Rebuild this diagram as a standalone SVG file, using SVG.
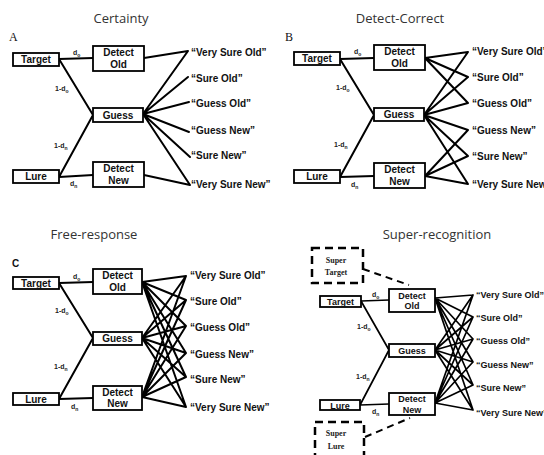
<svg xmlns="http://www.w3.org/2000/svg" width="544" height="455" viewBox="0 0 544 455">
<style>
.title{font-family:"Open Sans","Noto Sans",sans-serif;font-size:13px;fill:#333;text-anchor:middle}
.box{fill:#fff;stroke:#000;stroke-width:1.8}
.lbl{font-family:"Liberation Sans",Arial,sans-serif;font-weight:bold;font-size:10px;fill:#111;text-anchor:middle}
.lblD{font-family:"Liberation Sans",Arial,sans-serif;font-weight:bold;font-size:9px;fill:#111;text-anchor:middle}
.resp{font-family:"Liberation Sans",Arial,sans-serif;font-weight:bold;font-size:10px;fill:#111}
.respD{font-family:"Liberation Sans",Arial,sans-serif;font-weight:bold;font-size:9px;fill:#111}
.p{font-family:"Liberation Sans",Arial,sans-serif;font-weight:bold;font-size:7px;fill:#222}
.sub{font-size:5px}
.e{fill:none;stroke:#000;stroke-width:2;stroke-linecap:round}
.eD{fill:none;stroke:#000;stroke-width:1.7;stroke-linecap:round}
.dash{fill:none;stroke:#000;stroke-width:2.5;stroke-dasharray:8 5}
.dashl{fill:none;stroke:#000;stroke-width:2;stroke-dasharray:7 5}
.sup{font-family:"Liberation Serif","Times New Roman",serif;font-weight:bold;font-size:8px;fill:#222;text-anchor:middle}
.letter{font-family:"Liberation Serif","Times New Roman",serif;font-size:12px;fill:#111}
</style>

<!-- Titles and panel letters -->
<text class="title" x="121" y="23">Certainty</text>
<text class="title" x="400" y="23">Detect-Correct</text>
<text class="title" x="94" y="239">Free-response</text>
<text class="title" x="437" y="239">Super-recognition</text>
<text class="letter" x="9" y="41">A</text>
<text class="letter" x="285" y="41">B</text>
<text x="12" y="267" style="font-family:'Liberation Sans',Arial,sans-serif;font-weight:bold;font-size:10px;fill:#111">C</text>

<!-- Connectors -->
<g id="connectors">
  <!-- Panel A -->
  <path class="e" d="M59 59L93 58M59 59L93 115M59 177L93 115M59 177L93 175"/>
  <path class="e" d="M144 58L188 51M143 114L188 51M143 114L188 77M143 114L189 102M143 114L189 132M143 114L190 157M143 114L190 185M144 175L190 185"/>
  <!-- Panel B -->
  <path class="e" d="M340 59L374 58M340 59L374 115M340 177L374 115M340 177L374 176"/>
  <path class="e" d="M425 58L468 52M425 58L468 77M425 58L468 103M424 115L468 52M424 115L468 77M424 115L468 103M424 115L468 130M424 115L468 156M424 115L468 184M425 176L468 130M425 176L468 156M425 176L468 184"/>
  <!-- Panel C -->
  <path class="e" d="M59 283L93 282M59 283L93 338M59 399L93 338M59 399L93 398"/>
  <path class="e" d="M142 282L186 276M142 282L186 300M142 282L186 326M142 282L186 353M142 282L186 377M142 282L186 407M142 338L186 276M142 338L186 300M142 338L186 326M142 338L186 353M142 338L186 377M142 338L186 407M142 397L186 276M142 397L186 300M142 397L186 326M142 397L186 353M142 397L186 377M142 397L186 407"/>
  <!-- Panel D -->
  <path class="eD" d="M361 301L389 300M361 301L389 350M360 405L389 350M360 405L389 404"/>
  <path class="eD" d="M435 298L473 295M435 298L473 317M435 298L473 339M435 298L473 362M435 298L473 385M435 298L473 410M435 350L473 295M435 350L473 317M435 350L473 339M435 350L473 362M435 350L473 385M435 350L473 410M435 403L473 295M435 403L473 317M435 403L473 339M435 403L473 362M435 403L473 385M435 403L473 410"/>
  <path class="dashl" d="M363 269L409 285"/>
  <path class="dashl" d="M365 437L410 418"/>
</g>

<!-- Edge parameter labels -->
<g id="params">
  <text class="p" x="73" y="55">d<tspan class="sub" dy="1.5">o</tspan></text>
  <text class="p" x="55" y="91">1-d<tspan class="sub" dy="1.5">o</tspan></text>
  <text class="p" x="54" y="148">1-d<tspan class="sub" dy="1.5">n</tspan></text>
  <text class="p" x="70" y="186">d<tspan class="sub" dy="1.5">n</tspan></text>

  <text class="p" x="354" y="54">d<tspan class="sub" dy="1.5">o</tspan></text>
  <text class="p" x="336" y="90">1-d<tspan class="sub" dy="1.5">o</tspan></text>
  <text class="p" x="334" y="147">1-d<tspan class="sub" dy="1.5">n</tspan></text>
  <text class="p" x="351" y="187">d<tspan class="sub" dy="1.5">n</tspan></text>

  <text class="p" x="73" y="279">d<tspan class="sub" dy="1.5">o</tspan></text>
  <text class="p" x="55" y="313">1-d<tspan class="sub" dy="1.5">o</tspan></text>
  <text class="p" x="54" y="369">1-d<tspan class="sub" dy="1.5">n</tspan></text>
  <text class="p" x="71" y="409">d<tspan class="sub" dy="1.5">n</tspan></text>

  <text class="p" x="372" y="297">d<tspan class="sub" dy="1.5">o</tspan></text>
  <text class="p" x="357" y="329">1-d<tspan class="sub" dy="1.5">o</tspan></text>
  <text class="p" x="356" y="379">1-d<tspan class="sub" dy="1.5">n</tspan></text>
  <text class="p" x="372" y="414">d<tspan class="sub" dy="1.5">n</tspan></text>
</g>

<!-- Panel A nodes -->
<g id="a-target"><rect class="box" x="13" y="53" width="46" height="13"/><text class="lbl" x="36" y="63">Target</text></g>
<g id="a-detect-old"><rect class="box" x="93" y="46" width="51" height="25"/><text class="lbl" x="118.5" y="56">Detect</text><text class="lbl" x="118.5" y="68">Old</text></g>
<g id="a-guess"><rect class="box" x="93" y="108" width="50" height="14"/><text class="lbl" x="118" y="119">Guess</text></g>
<g id="a-detect-new"><rect class="box" x="93" y="162" width="51" height="25"/><text class="lbl" x="118.5" y="172">Detect</text><text class="lbl" x="118.5" y="184">New</text></g>
<g id="a-lure"><rect class="box" x="13" y="170" width="46" height="13"/><text class="lbl" x="36" y="180">Lure</text></g>
<g id="a-responses">
  <text class="resp" x="191" y="56">“Very Sure Old”</text>
  <text class="resp" x="191" y="82">“Sure Old”</text>
  <text class="resp" x="191" y="107">“Guess Old”</text>
  <text class="resp" x="191" y="134">“Guess New”</text>
  <text class="resp" x="191" y="159">“Sure New”</text>
  <text class="resp" x="191" y="188">“Very Sure New”</text>
</g>

<!-- Panel B nodes -->
<g id="b-target"><rect class="box" x="294" y="52" width="46" height="13"/><text class="lbl" x="317" y="62">Target</text></g>
<g id="b-detect-old"><rect class="box" x="374" y="45" width="51" height="25"/><text class="lbl" x="399.5" y="55">Detect</text><text class="lbl" x="399.5" y="67">Old</text></g>
<g id="b-guess"><rect class="box" x="374" y="108" width="50" height="13"/><text class="lbl" x="399" y="118">Guess</text></g>
<g id="b-detect-new"><rect class="box" x="374" y="163" width="51" height="25"/><text class="lbl" x="399.5" y="173">Detect</text><text class="lbl" x="399.5" y="185">New</text></g>
<g id="b-lure"><rect class="box" x="294" y="170" width="46" height="13"/><text class="lbl" x="317" y="180">Lure</text></g>
<g id="b-responses">
  <text class="resp" x="472" y="55">“Very Sure Old”</text>
  <text class="resp" x="472" y="81">“Sure Old”</text>
  <text class="resp" x="472" y="107">“Guess Old”</text>
  <text class="resp" x="472" y="134">“Guess New”</text>
  <text class="resp" x="472" y="160">“Sure New”</text>
  <text class="resp" x="472" y="188">“Very Sure New”</text>
</g>

<!-- Panel C nodes -->
<g id="c-target"><rect class="box" x="13" y="277" width="46" height="12"/><text class="lbl" x="36" y="286.5">Target</text></g>
<g id="c-detect-old"><rect class="box" x="93" y="269" width="49" height="25"/><text class="lbl" x="117.5" y="279">Detect</text><text class="lbl" x="117.5" y="291">Old</text></g>
<g id="c-guess"><rect class="box" x="93" y="332" width="49" height="13"/><text class="lbl" x="117.5" y="342">Guess</text></g>
<g id="c-detect-new"><rect class="box" x="93" y="386" width="49" height="24"/><text class="lbl" x="117.5" y="396">Detect</text><text class="lbl" x="117.5" y="407">New</text></g>
<g id="c-lure"><rect class="box" x="13" y="393" width="46" height="12"/><text class="lbl" x="36" y="402.5">Lure</text></g>
<g id="c-responses">
  <text class="resp" x="190" y="279">“Very Sure Old”</text>
  <text class="resp" x="190" y="305">“Sure Old”</text>
  <text class="resp" x="190" y="331">“Guess Old”</text>
  <text class="resp" x="190" y="358">“Guess New”</text>
  <text class="resp" x="190" y="383">“Sure New”</text>
  <text class="resp" x="190" y="411">“Very Sure New”</text>
</g>

<!-- Panel D nodes -->
<g id="d-super-target"><rect class="dash" x="312" y="248" width="51" height="35"/><text class="sup" x="336" y="263">Super</text><text class="sup" x="336" y="275">Target</text></g>
<g id="d-target"><rect class="box" x="320" y="296" width="41" height="11"/><text class="lblD" x="340.5" y="304.5">Target</text></g>
<g id="d-detect-old"><rect class="box" x="389" y="289" width="46" height="23"/><text class="lblD" x="412" y="298.5">Detect</text><text class="lblD" x="412" y="309">Old</text></g>
<g id="d-guess"><rect class="box" x="389" y="344" width="46" height="13"/><text class="lblD" x="412" y="354">Guess</text></g>
<g id="d-detect-new"><rect class="box" x="389" y="393" width="46" height="22"/><text class="lblD" x="412" y="402">Detect</text><text class="lblD" x="412" y="412.5">New</text></g>
<g id="d-lure"><rect class="box" x="320" y="400" width="40" height="10"/><text class="lblD" x="340" y="408.5">Lure</text></g>
<g id="d-super-lure"><rect class="dash" x="315" y="422" width="49" height="42"/><text class="sup" x="336" y="436">Super</text><text class="sup" x="336" y="449">Lure</text></g>
<g id="d-responses">
  <text class="respD" x="476" y="298">“Very Sure Old”</text>
  <text class="respD" x="476" y="321">“Sure Old”</text>
  <text class="respD" x="476" y="344">“Guess Old”</text>
  <text class="respD" x="476" y="368">“Guess New”</text>
  <text class="respD" x="476" y="391">“Sure New”</text>
  <text class="respD" x="476" y="416">“Very Sure New”</text>
</g>
</svg>
